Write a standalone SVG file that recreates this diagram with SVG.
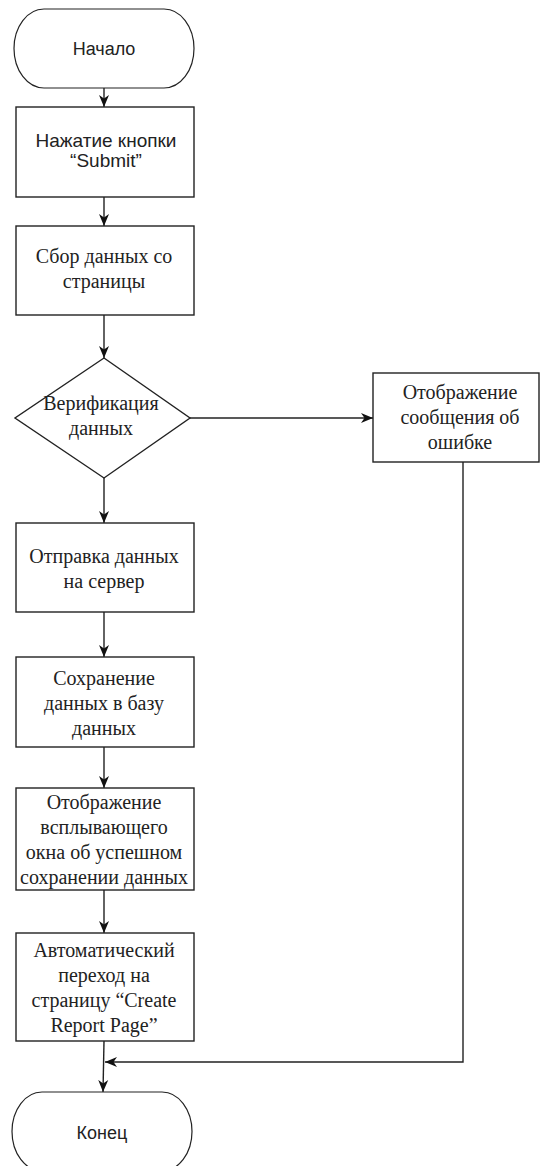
<svg xmlns="http://www.w3.org/2000/svg" width="540" height="1166" viewBox="0 0 540 1166">
<defs>
<style>
.shape{fill:#fff;stroke:#222;stroke-width:1.4}
.term{fill:#fff;stroke:#222;stroke-width:1.2}
.edge{fill:none;stroke:#222;stroke-width:1.4}
.sans{font-family:"Liberation Sans",Arial,sans-serif;font-size:18px;fill:#222;text-anchor:middle}
.sans.big{font-size:19px}
.serif{font-family:"Liberation Serif","Times New Roman",serif;font-size:20px;fill:#222;text-anchor:middle}
</style>
<marker id="arr" viewBox="0 0 12 12" refX="12" refY="6" markerWidth="12" markerHeight="12" markerUnits="userSpaceOnUse" orient="auto">
<path d="M0,1 L12,6 L0,11 L3.5,6 z" fill="#111"/>
</marker>
</defs>
<rect width="540" height="1166" fill="#fff"/>

<g id="connectors">
<line class="edge" x1="104" y1="88" x2="104" y2="107" marker-end="url(#arr)"/>
<line class="edge" x1="104" y1="197" x2="104" y2="226" marker-end="url(#arr)"/>
<line class="edge" x1="104" y1="315" x2="104" y2="358" marker-end="url(#arr)"/>
<line class="edge" x1="104" y1="478" x2="104" y2="523" marker-end="url(#arr)"/>
<line class="edge" x1="190" y1="418" x2="373" y2="418" marker-end="url(#arr)"/>
<line class="edge" x1="104" y1="612" x2="104" y2="657" marker-end="url(#arr)"/>
<line class="edge" x1="104" y1="747" x2="104" y2="788" marker-end="url(#arr)"/>
<line class="edge" x1="104" y1="890" x2="104" y2="933" marker-end="url(#arr)"/>
<line class="edge" x1="104" y1="1041" x2="103" y2="1092" marker-end="url(#arr)"/>
<polyline class="edge" points="463,462 463,1062 105,1062" marker-end="url(#arr)"/>
</g>

<g id="start">
<rect class="term" x="14" y="9" width="180" height="79" rx="30" ry="39.5"/>
<text class="sans" x="104" y="55">Начало</text>
</g>

<g id="submit">
<rect class="shape" x="16" y="107" width="178" height="90"/>
<text class="sans big" x="106" y="147">Нажатие кнопки</text>
<text class="sans big" x="106" y="167">“Submit”</text>
</g>

<g id="collect">
<rect class="shape" x="16" y="226" width="178" height="89"/>
<text class="serif" x="104" y="263">Сбор данных со</text>
<text class="serif" x="104" y="288">страницы</text>
</g>

<g id="verify">
<polygon class="shape" points="104,358 190,418 104,478 15,418"/>
<text class="serif" x="101" y="410">Верификация</text>
<text class="serif" x="101" y="435">данных</text>
</g>

<g id="error">
<rect class="shape" x="373" y="373" width="166" height="89"/>
<text class="serif" x="460" y="399">Отображение</text>
<text class="serif" x="460" y="424">сообщения об</text>
<text class="serif" x="460" y="449">ошибке</text>
</g>

<g id="send">
<rect class="shape" x="16" y="523" width="178" height="89"/>
<text class="serif" x="104" y="563">Отправка данных</text>
<text class="serif" x="104" y="588">на сервер</text>
</g>

<g id="save">
<rect class="shape" x="16" y="657" width="178" height="90"/>
<text class="serif" x="104" y="685">Сохранение</text>
<text class="serif" x="104" y="710">данных в базу</text>
<text class="serif" x="104" y="735">данных</text>
</g>

<g id="popup">
<rect class="shape" x="16" y="788" width="178" height="102"/>
<text class="serif" x="104" y="809">Отображение</text>
<text class="serif" x="104" y="834">всплывающего</text>
<text class="serif" x="104" y="859">окна об успешном</text>
<text class="serif" x="104" y="884">сохранении данных</text>
</g>

<g id="redirect">
<rect class="shape" x="16" y="933" width="178" height="108"/>
<text class="serif" x="104" y="957">Автоматический</text>
<text class="serif" x="104" y="982">переход на</text>
<text class="serif" x="104" y="1007">страницу “Create</text>
<text class="serif" x="104" y="1032">Report Page”</text>
</g>

<g id="end">
<rect class="term" x="12" y="1092" width="180" height="79" rx="30" ry="39.5"/>
<text class="sans" x="102" y="1139">Конец</text>
</g>
</svg>
